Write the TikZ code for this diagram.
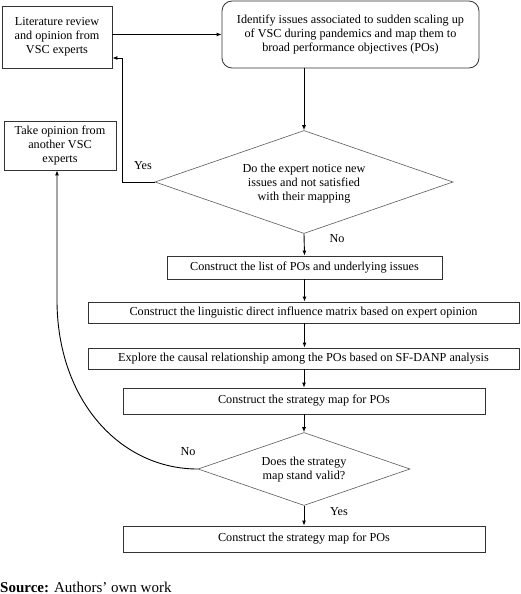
\documentclass[tikz,border=0pt]{standalone}
\usepackage{fontspec}
\setmainfont{Liberation Serif}
\usetikzlibrary{shapes.geometric,arrows.meta}
\begin{document}
\begin{tikzpicture}[x=1pt,y=-1pt,
  every node/.style={font=\fontsize{12.2}{14}\selectfont},
  box/.style={draw=black!80,line width=0.8pt,rectangle,inner sep=0pt,align=center},
  rbox/.style={box,rounded corners=10pt},
  dia/.style={draw=black!65,line width=0.6pt,diamond,inner sep=0pt},
  arr/.style={draw=black,line width=0.9pt,-{Latex[length=5pt,width=4pt]}},
  lbl/.style={inner sep=0pt}]
\useasboundingbox (0,0) rectangle (520,594);
\node[box,minimum width=110pt,minimum height=62pt] (lit) at (57,37) {Literature review\\and opinion from\\VSC experts};
\node[rbox,minimum width=257pt,minimum height=67pt] (idf) at (350.5,34.5) {Identify issues associated to sudden scaling up\\of VSC during pandemics and map them to\\broad performance objectives (POs)};
\node[dia,minimum width=298pt,minimum height=103pt] (d1) at (304,182) {};
\node[align=center,inner sep=0pt] (d1t) at (304,184) {Do the expert notice new\\issues and not satisfied\\with their mapping};
\node[box,minimum width=112pt,minimum height=49pt] (tko) at (60,145.5) {Take opinion from\\another VSC\\experts};
\node[box,minimum width=275pt,minimum height=23pt] (lst) at (304.5,267.5) {Construct the list of POs and underlying issues};
\node[box,minimum width=431pt,minimum height=21pt] (lng) at (303.5,312.5) {Construct the linguistic direct influence matrix based on expert opinion};
\node[box,minimum width=431pt,minimum height=21pt] (exp) at (303.5,358.5) {Explore the causal relationship among the POs based on SF-DANP analysis};
\node[box,minimum width=362pt,minimum height=26pt] (stm) at (304,401) {Construct the strategy map for POs};
\node[dia,minimum width=212pt,minimum height=73pt] (d2) at (304,469) {};
\node[align=center,inner sep=0pt] (d2t) at (304,470) {Does the strategy\\map stand valid?};
\node[box,minimum width=362pt,minimum height=26pt] (fin) at (304,539) {Construct the strategy map for POs};
\node[lbl] (y1) at (143,166) {Yes};
\node[lbl] (n1) at (337,239) {No};
\node[lbl] (n2) at (188,452) {No};
\node[lbl] (y2) at (339,512) {Yes};
\node[anchor=base west,inner sep=0pt,font=\fontsize{15}{18}\selectfont] (src) at (0,592) {\textbf{Source:} Authors’ own work};
\draw[arr] (lit.east |- idf.west) -- (idf.west);
\draw[arr] (d1.north |- idf.south) -- (d1.north);
\coordinate (yc) at (122,182);
\draw[arr] (d1.west) -- (yc) |- ([yshift=-21pt]lit.east);
\draw[arr] (d1.south) -- (lst.north);
\draw[arr] (lst.south) -- (lng.north -| lst.south);
\draw[arr] (lng.south -| lst.south) -- (exp.north -| lst.south);
\draw[arr] (exp.south -| stm.north) -- (stm.north);
\draw[arr] (stm.south) -- (d2.north);
\draw[arr] (d2.south) -- (fin.north);
\coordinate (cv) at (57,300);
\draw[arr] (d2.west) .. controls (120,469) and (57,400) .. (cv) -- (cv |- tko.south);
\end{tikzpicture}
\end{document}
